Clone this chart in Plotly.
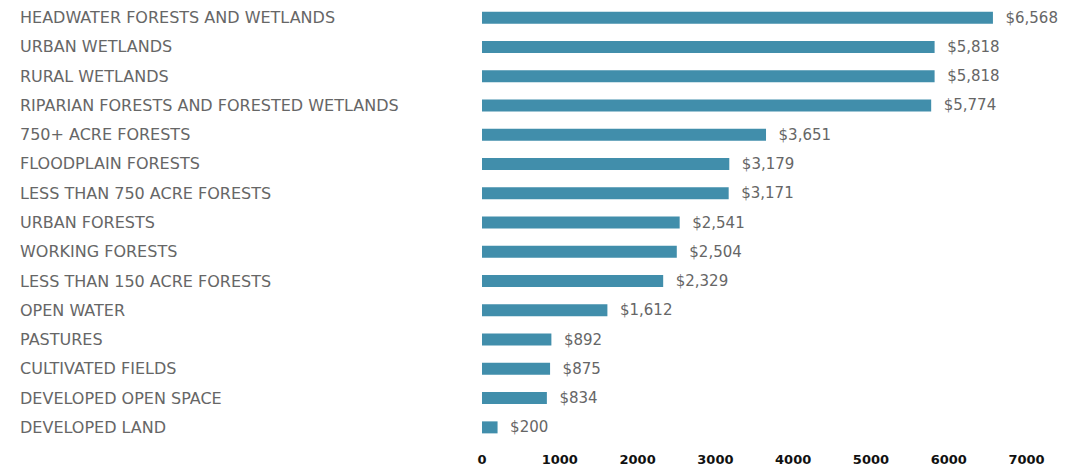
import plotly.graph_objects as go

categories = [
    "HEADWATER FORESTS AND WETLANDS",
    "URBAN WETLANDS",
    "RURAL WETLANDS",
    "RIPARIAN FORESTS AND FORESTED WETLANDS",
    "750+ ACRE FORESTS",
    "FLOODPLAIN FORESTS",
    "LESS THAN 750 ACRE FORESTS",
    "URBAN FORESTS",
    "WORKING FORESTS",
    "LESS THAN 150 ACRE FORESTS",
    "OPEN WATER",
    "PASTURES",
    "CULTIVATED FIELDS",
    "DEVELOPED OPEN SPACE",
    "DEVELOPED LAND",
]
values = [6568, 5818, 5818, 5774, 3651, 3179, 3171, 2541, 2504, 2329, 1612, 892, 875, 834, 200]
tick_values = [0, 1000, 2000, 3000, 4000, 5000, 6000, 7000]

BAR = "#418eab"
GREY = "#666666"
FONT = "DejaVu Sans, sans-serif"

fig = go.Figure()
fig.add_trace(go.Bar(
    x=values,
    y=categories,
    orientation="h",
    marker=dict(color=BAR, line=dict(width=0)),
    text=[f"${v:,}" for v in values],
    texttemplate="  %{text}",
    textposition="outside",
    constraintext="none",
    textfont=dict(family=FONT, size=15, color=GREY),
    cliponaxis=False,
    hoverinfo="skip",
))

ML = 482
for c in categories:
    fig.add_annotation(
        x=0, xref="paper", y=c, yref="y",
        text=c, showarrow=False, xanchor="left", yanchor="middle",
        xshift=18 - ML,
        font=dict(family=FONT, size=16, color=GREY),
    )

fig.update_layout(
    width=1090, height=470,
    margin=dict(l=ML, r=30, t=3, b=21),
    plot_bgcolor="white", paper_bgcolor="white",
    bargap=0.59,
    showlegend=False,
    xaxis=dict(
        range=[0, 7430], tickvals=tick_values, ticktext=[str(t) for t in tick_values],
        showgrid=False, zeroline=False, showline=False, ticks="",
        tickfont=dict(family=FONT, size=13, color="#111111", weight="bold"),
        ticklabelstandoff=8,
    ),
    yaxis=dict(
        autorange="reversed", showticklabels=False, showgrid=False,
        zeroline=False, showline=False, ticks="",
    ),
)

fig.write_html(
    "out.html",
    config={"displayModeBar": False},
    post_script="document.body.style.margin='0';document.body.style.overflow='hidden';",
)
